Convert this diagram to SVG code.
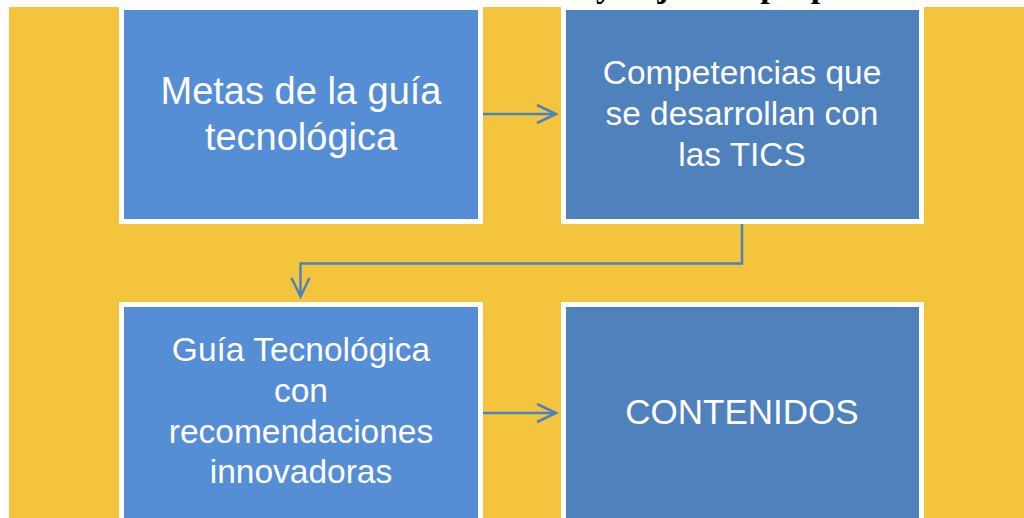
<svg xmlns="http://www.w3.org/2000/svg" width="1024" height="518" viewBox="0 0 1024 518">
  <defs>
    <style>
      .bg { fill: #F4C43C; }
      .boxA { fill: #558ED5; stroke: #FFFFFF; stroke-width: 5; }
      .boxB { fill: #4F81BD; stroke: #FFFFFF; stroke-width: 5; }
      .lbl { font-family: "Liberation Sans", Arial, sans-serif; fill: #FFFFFF; text-anchor: middle; }
      .conn { fill: none; stroke: #4F81BD; stroke-width: 2.5; }
      .head { fill: none; stroke: #4F81BD; stroke-width: 2.5; stroke-linejoin: miter; }
    </style>
  </defs>
  <rect x="0" y="0" width="1024" height="518" fill="#FFFFFF"/>
  <rect class="bg" x="9" y="7" width="1015" height="511"/>
  <text x="596" y="-3" font-family="'Liberation Serif', 'Times New Roman', serif" font-weight="bold" font-size="34" fill="#000000">y objetivos propuestos</text>

  <g id="node-metas">
    <rect class="boxA" x="121.5" y="7.5" width="359" height="214"/>
    <text class="lbl" font-size="38" x="301" y="104">Metas de la guía</text>
    <text class="lbl" font-size="38" x="301" y="150">tecnológica</text>
  </g>
  <g id="node-competencias">
    <rect class="boxB" x="563.5" y="7.5" width="358" height="214"/>
    <text class="lbl" font-size="33.4" x="742" y="84">Competencias que</text>
    <text class="lbl" font-size="33.4" x="742" y="125">se desarrollan con</text>
    <text class="lbl" font-size="33.4" x="742" y="166">las TICS</text>
  </g>
  <g id="node-guia">
    <rect class="boxA" x="121.5" y="304.5" width="359" height="300"/>
    <text class="lbl" font-size="33.5" x="301" y="361">Guía Tecnológica</text>
    <text class="lbl" font-size="33.5" x="301" y="402">con</text>
    <text class="lbl" font-size="33.5" x="301" y="443">recomendaciones</text>
    <text class="lbl" font-size="33.5" x="301" y="483">innovadoras</text>
  </g>
  <g id="node-contenidos">
    <rect class="boxB" x="563.5" y="304.5" width="358" height="300"/>
    <text class="lbl" font-size="35" x="742" y="424">CONTENIDOS</text>
  </g>

  <g id="connectors">
    <path class="conn" d="M483,114 H555"/>
    <path class="head" d="M537,105 L556,114 L537,123"/>
    <path class="conn" d="M742,224 V263.5 H300.5 V295"/>
    <path class="head" d="M291.5,278 L300.5,296.5 L309.5,278"/>
    <path class="conn" d="M483,413 H555"/>
    <path class="head" d="M537,404 L556,413 L537,422"/>
  </g>
</svg>
